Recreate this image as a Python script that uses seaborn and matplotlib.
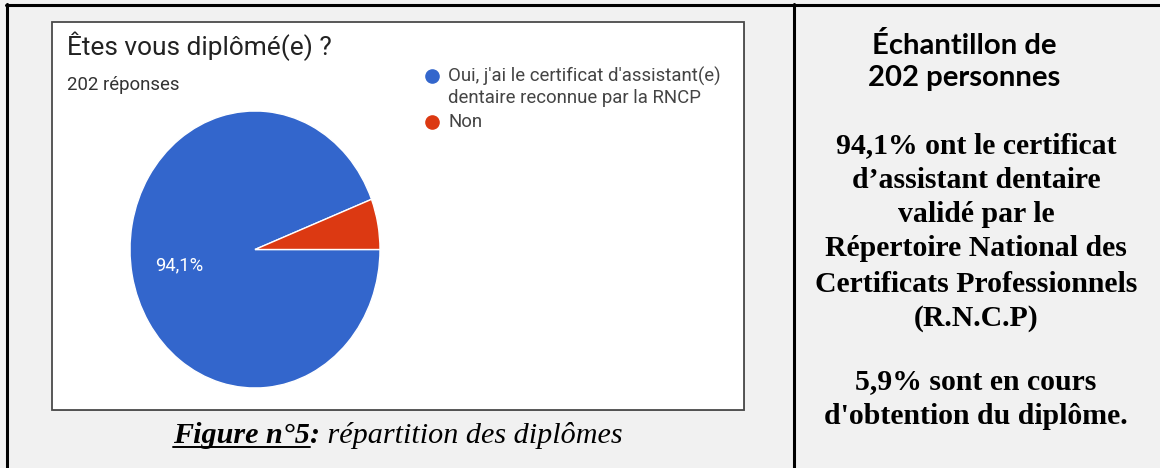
import matplotlib
matplotlib.use("Agg")
import matplotlib.pyplot as plt
import seaborn as sns
from matplotlib.patches import Rectangle
from matplotlib.lines import Line2D

# ---- data ----
categories = ["Oui, j'ai le certificat d'assistant(e)\ndentaire reconnue par la RNCP", "Non"]
shares = [94.1, 5.9]
colors = ["#3366cc", "#dc3912"]
chart_title = "Êtes vous diplômé(e) ?"
n_responses = "202 réponses"
side_head = ["Échantillon de", "202 personnes"]
side_main = ["94,1% ont le certificat", "d\u2019assistant dentaire", "validé par le",
             "Répertoire National des", "Certificats Professionnels", "(R.N.C.P)"]
side_tail = ["5,9% sont en cours", "d'obtention du diplôme."]
caption_bold = "Figure n°5"
caption_colon = ":"
caption_rest = " répartition des diplômes"

sns.set_theme(style="white")
plt.rcParams["font.family"] = ["DejaVu Sans"]

W, H = 1160, 468
fig = plt.figure(figsize=(W / 100, H / 100), dpi=100)
fig.patch.set_facecolor("#f1f1f1")

bg = fig.add_axes([0, 0, 1, 1], zorder=0)
bg.set_xlim(0, W)
bg.set_ylim(H, 0)
bg.axis("off")

renderer = fig.canvas.get_renderer()

def width(t):
    return t.get_window_extent(renderer).width

def fit(t, target):
    t.set_fontsize(t.get_fontsize() * target / width(t))
    return t

# table borders
bg.add_line(Line2D([6, W], [4.5, 4.5], color="black", lw=2.2))
bg.add_line(Line2D([6.5, 6.5], [4, H], color="black", lw=2.2))
bg.add_line(Line2D([793.5, 793.5], [4, H], color="black", lw=2.2))

# screenshot frame
bg.add_patch(Rectangle((53, 23), 692, 388, facecolor="#b0b0b0", edgecolor="none", zorder=1))
bg.add_patch(Rectangle((52, 22), 692, 388, facecolor="white", edgecolor="#4a4a4a", lw=1.3, zorder=2))

# legend (manual)
leg_y = [76, 122]
leg_texts = []
for cat, col, y in zip(categories, colors, leg_y):
    bg.plot([432], [y], "o", ms=9.5, color=col, zorder=3)
    for j, line in enumerate(cat.split("\n")):
        tt = bg.text(448, y + 22 * j, line, fontfamily="Roboto", color="#444444",
                     va="center", ha="left", fontsize=10, zorder=3)
        leg_texts.append(tt)
fit(leg_texts[0], 274)
leg_fs = leg_texts[0].get_fontsize()
for tx in leg_texts:
    tx.set_fontsize(leg_fs)

# title texts
t = bg.text(67, 46, chart_title, fontfamily="Roboto", color="#222222", va="center", ha="left", fontsize=14, zorder=3)
fit(t, 267)
bg.text(67, 85, n_responses, fontfamily="Roboto", color="#333333", va="center", ha="left",
        fontsize=leg_fs, zorder=3)

# pie
cx0, cx1, cy0, cy1 = 130, 380, 111, 388
pax = fig.add_axes([cx0 / W, (H - cy1) / H, (cx1 - cx0) / W, (cy1 - cy0) / H], zorder=5)
start = shares[1] / sum(shares) * 360
wedges, _, autot = pax.pie(shares, colors=colors, startangle=start, counterclock=True,
                           autopct=lambda p: (f"{p:.1f}%".replace(".", ",") if p > 50 else ""),
                           pctdistance=0.62,
                           wedgeprops=dict(edgecolor="white", linewidth=1),
                           textprops=dict(color="white", fontfamily="Roboto", fontsize=10))
pax.set_aspect("auto")
pax.set_xlim(-1, 1)
pax.set_ylim(-1, 1)
pax.patch.set_alpha(0)
for a in autot:
    if a.get_text():
        fit(a, 48)

# caption (centred under the frame)
y_cap = 443
cap_center, cap_width = 398, 450
kw = dict(fontfamily="Liberation Serif", fontstyle="italic", va="baseline", ha="left", color="black")
c1 = bg.text(0, y_cap, caption_bold, fontweight="bold", fontsize=18, **kw)
c2 = bg.text(0, y_cap, caption_colon, fontweight="bold", fontsize=18, **kw)
c3 = bg.text(0, y_cap, caption_rest, fontsize=18, **kw)
tot = width(c1) + width(c2) + width(c3)
fs = 18 * cap_width / tot
for c in (c1, c2, c3):
    c.set_fontsize(fs)
x = cap_center - (width(c1) + width(c2) + width(c3)) / 2
c1.set_x(x)
bb = c1.get_window_extent(renderer)
bg.add_line(Line2D([x, x + bb.width], [y_cap + 3.5, y_cap + 3.5], color="black", lw=1.4))
x += bb.width
c2.set_x(x)
x += width(c2)
c3.set_x(x)

# side text
hy = [46, 78]
ts = [bg.text(964, y, s, fontfamily="Lato", fontweight="bold", ha="center", va="center",
              fontsize=14, color="black") for s, y in zip(side_head, hy)]
fit(ts[1], 193)
for tx in ts:
    tx.set_fontsize(ts[1].get_fontsize())

my = [146, 181, 215, 249, 284, 319]
tm = [bg.text(976, y, s, fontfamily="Liberation Serif", fontweight="bold", ha="center",
              va="center", fontsize=17, color="black") for s, y in zip(side_main, my)]
fit(tm[4], 323)
for tx in tm:
    tx.set_fontsize(tm[4].get_fontsize())

ty = [382, 416]
for s, y in zip(side_tail, ty):
    bg.text(976, y, s, fontfamily="Liberation Serif", fontweight="bold", ha="center",
            va="center", fontsize=tm[4].get_fontsize(), color="black")

fig.savefig("out.png", dpi=100, facecolor=fig.get_facecolor())
